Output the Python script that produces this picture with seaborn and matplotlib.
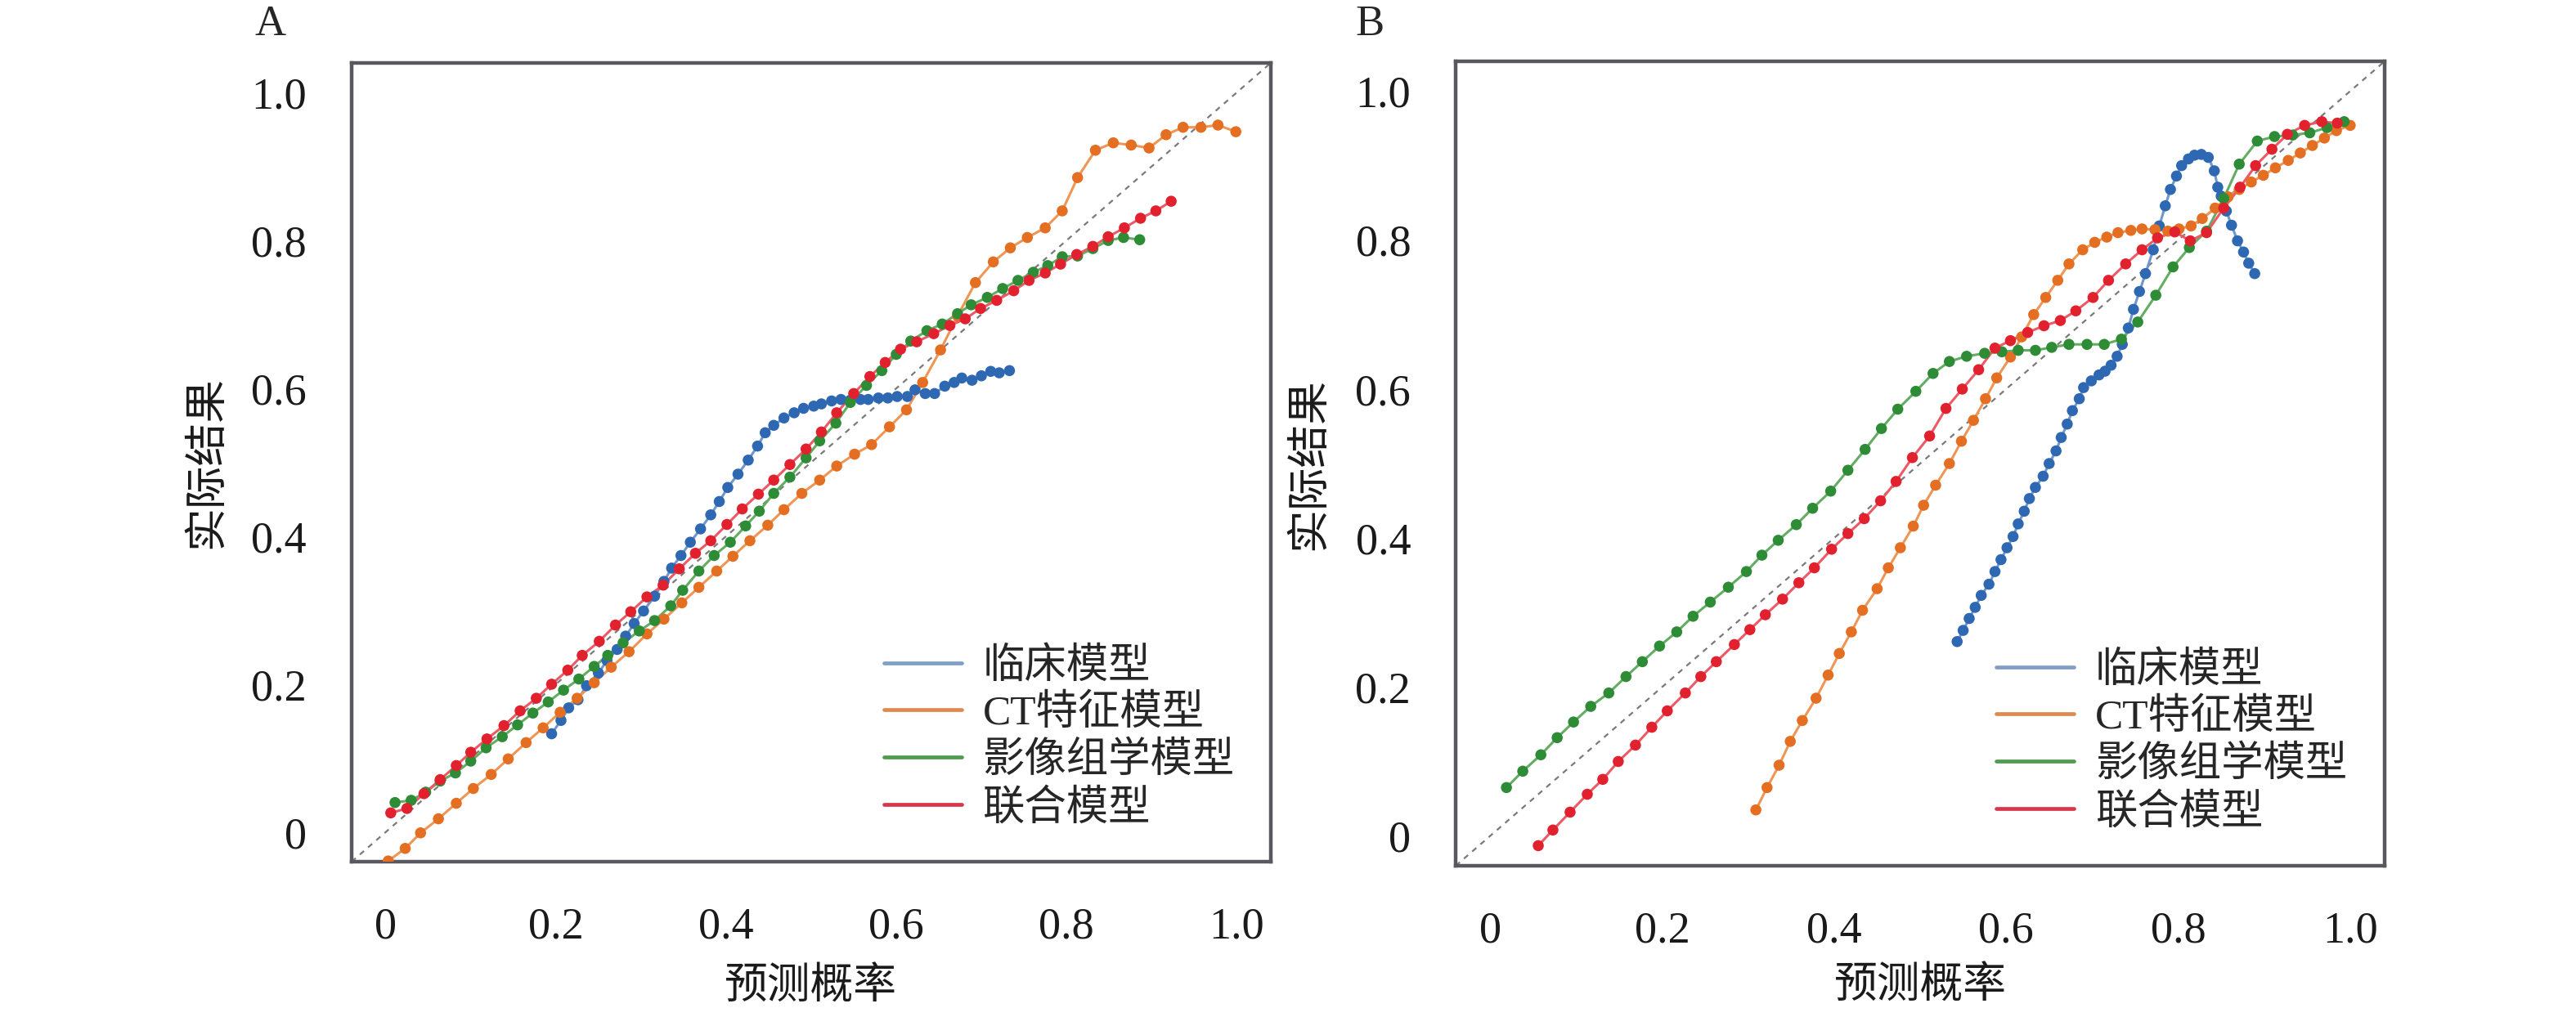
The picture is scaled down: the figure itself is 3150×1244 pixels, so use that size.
import matplotlib
matplotlib.use("Agg")
import matplotlib.pyplot as plt
from matplotlib.lines import Line2D
import pandas as pd
import seaborn as sns

models = ["临床模型", "CT特征模型", "影像组学模型", "联合模型"]

a_clin_x = [0.195, 0.206, 0.215, 0.226, 0.236, 0.250, 0.260, 0.272, 0.282, 0.292,
            0.303, 0.316, 0.327, 0.336, 0.347, 0.358, 0.370, 0.382, 0.392, 0.402,
            0.414, 0.426, 0.437, 0.446, 0.456, 0.468, 0.480, 0.491, 0.503, 0.512,
            0.524, 0.535, 0.546, 0.558, 0.567, 0.579, 0.590, 0.601, 0.613, 0.622,
            0.634, 0.645, 0.657, 0.668, 0.677, 0.689, 0.700, 0.711, 0.721, 0.733]
a_clin_y = [0.133, 0.151, 0.168, 0.179, 0.198, 0.215, 0.232, 0.247, 0.265, 0.282,
            0.299, 0.319, 0.339, 0.357, 0.374, 0.392, 0.410, 0.429, 0.447, 0.466,
            0.484, 0.503, 0.522, 0.540, 0.550, 0.560, 0.567, 0.573, 0.576, 0.579,
            0.583, 0.585, 0.584, 0.585, 0.585, 0.587, 0.587, 0.589, 0.589, 0.598,
            0.593, 0.593, 0.603, 0.608, 0.614, 0.611, 0.617, 0.623, 0.621, 0.624]

a_ct_x = [0.003, 0.023, 0.041, 0.062, 0.083, 0.103, 0.124, 0.144, 0.165, 0.185,
          0.205, 0.225, 0.245, 0.265, 0.286, 0.307, 0.327, 0.348, 0.368, 0.389,
          0.408, 0.428, 0.449, 0.468, 0.489, 0.510, 0.530, 0.551, 0.571, 0.592,
          0.612, 0.631, 0.652, 0.672, 0.693, 0.714, 0.734, 0.754, 0.775, 0.795,
          0.813, 0.834, 0.855, 0.876, 0.897, 0.917, 0.937, 0.958, 0.978, 0.999]
a_ct_y = [-0.039, -0.022, -0.001, 0.018, 0.039, 0.059, 0.078, 0.099, 0.121, 0.141,
          0.162, 0.181, 0.202, 0.223, 0.244, 0.268, 0.288, 0.310, 0.331, 0.353,
          0.373, 0.394, 0.415, 0.436, 0.458, 0.476, 0.495, 0.511, 0.524, 0.548,
          0.571, 0.608, 0.652, 0.698, 0.743, 0.771, 0.790, 0.804, 0.817, 0.840,
          0.885, 0.922, 0.932, 0.929, 0.925, 0.943, 0.953, 0.953, 0.956, 0.947]

a_rad_x = [0.011, 0.030, 0.047, 0.064, 0.082, 0.100, 0.118, 0.137, 0.155, 0.173,
           0.191, 0.209, 0.227, 0.245, 0.261, 0.279, 0.298, 0.316, 0.335, 0.349,
           0.368, 0.386, 0.405, 0.423, 0.439, 0.456, 0.475, 0.494, 0.510, 0.529,
           0.546, 0.565, 0.583, 0.600, 0.617, 0.636, 0.654, 0.672, 0.688, 0.707,
           0.725, 0.743, 0.761, 0.778, 0.795, 0.813, 0.831, 0.849, 0.867, 0.886]
a_rad_y = [0.040, 0.043, 0.054, 0.069, 0.080, 0.096, 0.114, 0.129, 0.145, 0.161,
           0.176, 0.192, 0.207, 0.224, 0.239, 0.256, 0.272, 0.286, 0.306, 0.327,
           0.353, 0.374, 0.392, 0.414, 0.434, 0.458, 0.480, 0.506, 0.529, 0.553,
           0.581, 0.604, 0.624, 0.646, 0.664, 0.678, 0.687, 0.701, 0.713, 0.723,
           0.735, 0.746, 0.757, 0.766, 0.778, 0.779, 0.789, 0.800, 0.804, 0.801]

a_comb_x = [0.006, 0.025, 0.045, 0.064, 0.083, 0.100, 0.119, 0.139, 0.158, 0.177,
            0.195, 0.214, 0.231, 0.251, 0.270, 0.288, 0.307, 0.326, 0.345, 0.364,
            0.382, 0.401, 0.419, 0.438, 0.456, 0.475, 0.494, 0.512, 0.530, 0.550,
            0.569, 0.587, 0.605, 0.624, 0.644, 0.663, 0.681, 0.699, 0.718, 0.738,
            0.756, 0.775, 0.793, 0.812, 0.831, 0.849, 0.868, 0.887, 0.905, 0.923]
a_comb_y = [0.026, 0.032, 0.052, 0.071, 0.090, 0.108, 0.126, 0.144, 0.164, 0.181,
            0.200, 0.219, 0.239, 0.258, 0.280, 0.298, 0.318, 0.334, 0.356, 0.377,
            0.394, 0.416, 0.437, 0.457, 0.476, 0.497, 0.518, 0.541, 0.567, 0.593,
            0.616, 0.635, 0.653, 0.663, 0.674, 0.685, 0.694, 0.708, 0.719, 0.732,
            0.746, 0.756, 0.768, 0.781, 0.792, 0.805, 0.817, 0.830, 0.840, 0.853]

b_clin_x = [0.543, 0.550, 0.557, 0.564, 0.571, 0.580, 0.587, 0.594, 0.601, 0.608,
            0.614, 0.621, 0.627, 0.634, 0.643, 0.650, 0.658, 0.664, 0.671, 0.677,
            0.685, 0.690, 0.699, 0.708, 0.715, 0.722, 0.729, 0.735, 0.742, 0.748,
            0.755, 0.762, 0.771, 0.778, 0.785, 0.791, 0.798, 0.804, 0.812, 0.819,
            0.827, 0.835, 0.842, 0.846, 0.850, 0.856, 0.862, 0.869, 0.876, 0.882,
            0.889]
b_clin_y = [0.261, 0.276, 0.292, 0.307, 0.323, 0.338, 0.355, 0.371, 0.387, 0.402,
            0.419, 0.436, 0.453, 0.468, 0.483, 0.500, 0.517, 0.535, 0.553, 0.571,
            0.587, 0.602, 0.611, 0.619, 0.624, 0.632, 0.644, 0.660, 0.682, 0.707,
            0.731, 0.755, 0.787, 0.819, 0.846, 0.868, 0.886, 0.900, 0.909, 0.914,
            0.915, 0.911, 0.893, 0.871, 0.859, 0.839, 0.820, 0.799, 0.784, 0.769,
            0.755]

b_ct_x = [0.309, 0.322, 0.336, 0.349, 0.363, 0.379, 0.393, 0.406, 0.420, 0.433,
          0.450, 0.463, 0.477, 0.492, 0.504, 0.518, 0.534, 0.548, 0.562, 0.576,
          0.589, 0.605, 0.618, 0.632, 0.646, 0.660, 0.673, 0.689, 0.703, 0.717,
          0.730, 0.745, 0.758, 0.773, 0.788, 0.801, 0.815, 0.828, 0.843, 0.858,
          0.871, 0.885, 0.899, 0.913, 0.928, 0.942, 0.956, 0.970, 0.984, 1.000]
b_ct_y = [0.035, 0.065, 0.095, 0.127, 0.155, 0.185, 0.216, 0.245, 0.274, 0.303,
          0.332, 0.360, 0.387, 0.416, 0.444, 0.471, 0.500, 0.530, 0.558, 0.587,
          0.615, 0.643, 0.670, 0.700, 0.723, 0.746, 0.768, 0.787, 0.797, 0.804,
          0.810, 0.813, 0.815, 0.814, 0.812, 0.815, 0.819, 0.829, 0.843, 0.858,
          0.868, 0.878, 0.887, 0.897, 0.907, 0.917, 0.927, 0.937, 0.947, 0.954]

b_rad_x = [0.019, 0.038, 0.059, 0.078, 0.097, 0.117, 0.138, 0.158, 0.177, 0.197,
           0.217, 0.236, 0.256, 0.277, 0.298, 0.316, 0.335, 0.356, 0.375, 0.396,
           0.416, 0.436, 0.455, 0.474, 0.495, 0.515, 0.534, 0.554, 0.575, 0.595,
           0.614, 0.634, 0.653, 0.673, 0.694, 0.714, 0.734, 0.753, 0.774, 0.794,
           0.813, 0.833, 0.853, 0.871, 0.892, 0.912, 0.933, 0.953, 0.973, 0.993]
b_rad_y = [0.065, 0.087, 0.109, 0.132, 0.153, 0.174, 0.192, 0.214, 0.234, 0.255,
           0.274, 0.295, 0.314, 0.334, 0.355, 0.377, 0.397, 0.418, 0.440, 0.463,
           0.491, 0.519, 0.547, 0.573, 0.597, 0.621, 0.637, 0.644, 0.648, 0.650,
           0.652, 0.652, 0.656, 0.660, 0.660, 0.660, 0.667, 0.690, 0.726, 0.764,
           0.790, 0.812, 0.856, 0.902, 0.933, 0.939, 0.941, 0.944, 0.951, 0.959]

b_comb_x = [0.056, 0.073, 0.093, 0.113, 0.131, 0.149, 0.169, 0.188, 0.206, 0.227,
            0.245, 0.263, 0.284, 0.302, 0.320, 0.340, 0.359, 0.377, 0.397, 0.416,
            0.435, 0.454, 0.472, 0.491, 0.511, 0.530, 0.549, 0.568, 0.587, 0.605,
            0.625, 0.644, 0.663, 0.681, 0.701, 0.719, 0.739, 0.758, 0.776, 0.796,
            0.814, 0.833, 0.853, 0.872, 0.890, 0.909, 0.927, 0.947, 0.967, 0.985]
b_comb_y = [-0.013, 0.008, 0.032, 0.056, 0.076, 0.100, 0.122, 0.146, 0.168, 0.192,
            0.214, 0.234, 0.257, 0.277, 0.297, 0.318, 0.340, 0.360, 0.385, 0.406,
            0.426, 0.450, 0.476, 0.508, 0.537, 0.574, 0.600, 0.626, 0.655, 0.665,
            0.676, 0.685, 0.692, 0.705, 0.723, 0.746, 0.768, 0.787, 0.803, 0.811,
            0.799, 0.810, 0.843, 0.871, 0.900, 0.922, 0.942, 0.954, 0.959, 0.957]

ticks = [0, 0.2, 0.4, 0.6, 0.8, 1.0]
tick_labels = ["0", "0.2", "0.4", "0.6", "0.8", "1.0"]

# marker colours, slightly paler connecting lines, legend line colours
dark = ["#2f68b2", "#e46f22", "#2f8c36", "#e2212f"]
light = ["#6f97cb", "#ee9656", "#63ad62", "#ec5a66"]
legend_cols = ["#809fc7", "#df8a50", "#4f9c4f", "#d8374b"]


def make_frame(series):
    rows = []
    for name, xs, ys in series:
        rows.append(pd.DataFrame({"pred": xs, "obs": ys, "model": name}))
    return pd.concat(rows, ignore_index=True)


df_a = make_frame([(models[0], a_clin_x, a_clin_y), (models[1], a_ct_x, a_ct_y),
                   (models[2], a_rad_x, a_rad_y), (models[3], a_comb_x, a_comb_y)])
df_b = make_frame([(models[0], b_clin_x, b_clin_y), (models[1], b_ct_x, b_ct_y),
                   (models[2], b_rad_x, b_rad_y), (models[3], b_comb_x, b_comb_y)])

sns.set_style("white")
plt.rcParams["font.family"] = ["Liberation Serif", "Noto Sans CJK SC", "DejaVu Sans"]
plt.rcParams["axes.unicode_minus"] = False

fig = plt.figure(figsize=(31.5, 12.44), dpi=100)
ax_a = fig.add_axes([0.1365, 0.1527, 0.3568, 0.7854])
ax_b = fig.add_axes([0.5651, 0.1487, 0.3606, 0.7910])

frame_col = "#58585e"

for ax, df, leg_xy, xlab_y in [(ax_a, df_a, (0.579, 0.155), -0.157),
                               (ax_b, df_b, (0.582, 0.154), -0.150)]:
    ax.axline((0, 0), slope=1, color="#7a7a7a", lw=1.6, ls=(0, (3, 3)), zorder=1)
    sns.lineplot(data=df, x="pred", y="obs", hue="model", hue_order=models,
                 palette=light, lw=2.2, sort=False, legend=False, ax=ax, zorder=2)
    sns.scatterplot(data=df, x="pred", y="obs", hue="model", hue_order=models,
                    palette=dark, s=95, linewidth=0, marker="o", legend=False,
                    ax=ax, zorder=3)

    ax.set_xlim(-0.04, 1.04)
    ax.set_ylim(-0.04, 1.04)
    ax.set_xticks(ticks, tick_labels)
    ax.set_yticks(ticks, tick_labels)
    ax.tick_params(direction="out", length=18.5, width=2.2, color=frame_col,
                   pad=21, labelsize=39, labelcolor="#1a1a1a")
    for sp in ax.spines.values():
        sp.set_visible(True)
        sp.set_color(frame_col)
        sp.set_linewidth(3.2)

    ax.set_xlabel("预测概率", fontsize=38, color="#1a1a1a", va="center")
    ax.set_ylabel("实际结果", fontsize=38, color="#1a1a1a", va="center")
    ax.xaxis.set_label_coords(0.5, xlab_y)
    ax.yaxis.set_label_coords(-0.157, 0.5)

    handles = [Line2D([], [], color=c, lw=3.4) for c in legend_cols]
    ax.legend(handles, models, loc="center left", bbox_to_anchor=leg_xy,
              frameon=False, fontsize=37, handlelength=1.85, handletextpad=0.5,
              labelspacing=0.2, borderpad=0, borderaxespad=0)

fig.text(331 / 3150, 1 - 43 / 1244, "A", fontsize=38, ha="center", va="baseline")
fig.text(1675 / 3150, 1 - 43 / 1244, "B", fontsize=38, ha="center", va="baseline")

fig.savefig("out.png", dpi=100)
